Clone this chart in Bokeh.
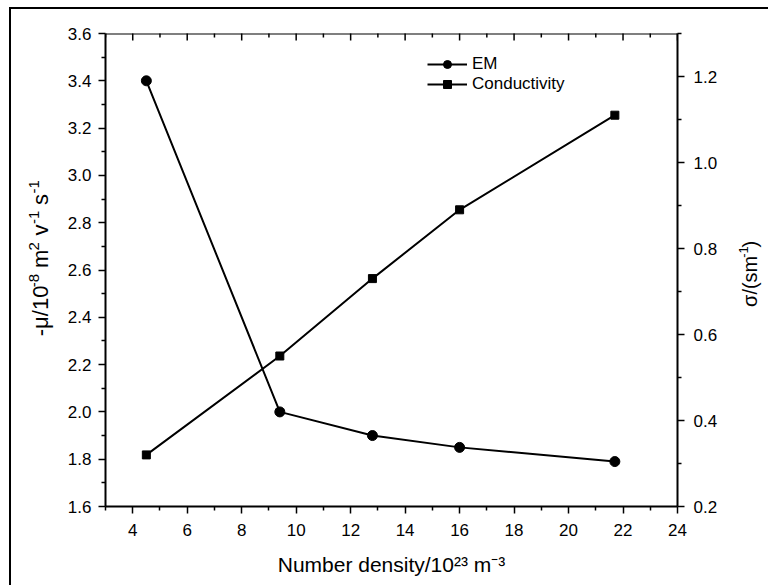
import math

from bokeh.embed import file_html
from bokeh.layouts import row
from bokeh.models import (FixedTicker, Label, Legend, LegendItem, LinearAxis,
                          PrintfTickFormatter, Range1d)
from bokeh.plotting import figure
from bokeh.resources import INLINE

# ---- data -------------------------------------------------------------
density = [4.5, 9.4, 12.8, 16.0, 21.7]          # number density / 1e23 m^-3
em_mobility = [3.40, 2.00, 1.90, 1.85, 1.79]     # -mu / 1e-8 m^2 V^-1 s^-1
conductivity = [0.32, 0.55, 0.73, 0.89, 1.11]    # sigma / (S m^-1)

x_ticks = [4, 6, 8, 10, 12, 14, 16, 18, 20, 22, 24]
mu_ticks = [1.6, 1.8, 2.0, 2.2, 2.4, 2.6, 2.8, 3.0, 3.2, 3.4, 3.6]
sigma_ticks = [0.2, 0.4, 0.6, 0.8, 1.0, 1.2]

X_RANGE = (3, 24)
MU_RANGE = (1.6, 3.6)
SIGMA_RANGE = (0.2, 1.3)

X_TITLE = "Number density/10\u00b2\u00b3 m\u207b\u00b3"
# (text, superscript?) runs for the two vertical titles
MU_TITLE = [("-\u03bc/10", False), ("-8", True), ("m", False), ("2", True),
            ("v", False), ("-1", True), ("s", False), ("-1", True)]
SIGMA_TITLE = [("\u03c3/(sm", False), ("-1", True), (")", False)]

FONT = "Liberation Sans"

# ---- canvas geometry (page pixels) ----------------------------------------
PAGE_X0, PAGE_Y0 = 11, 9        # inside the thin page frame
H = 576
LEFT_W, MAIN_W, RIGHT_W = 52, 667, 38
BL, BR, BT, BB = 42, 53, 24, 79

p = figure(width=MAIN_W, height=H,
           x_range=Range1d(*X_RANGE), y_range=Range1d(*MU_RANGE),
           x_axis_type=None, y_axis_type=None,
           output_backend="svg", toolbar_location=None,
           min_border_left=BL, min_border_right=BR,
           min_border_top=BT, min_border_bottom=BB)
p.extra_y_ranges = {"sigma": Range1d(*SIGMA_RANGE)}
p.outline_line_color = None
p.background_fill_color = "white"
p.border_fill_color = "white"


def minor_between(ticks):
    return [round((a + b) / 2, 3) for a, b in zip(ticks[:-1], ticks[1:])]


def style_axis(ax):
    ax.axis_line_color = "black"
    ax.axis_line_width = 2
    ax.major_tick_line_color = "black"
    ax.minor_tick_line_color = "black"
    ax.major_tick_line_width = 1.5
    ax.minor_tick_line_width = 1.5
    ax.major_tick_in, ax.major_tick_out = 0, 7
    ax.minor_tick_in, ax.minor_tick_out = 0, 4
    ax.major_label_text_font = FONT
    ax.major_label_text_font_size = "17px"
    ax.major_label_text_color = "black"
    ax.axis_label_text_font = FONT
    ax.axis_label_text_font_style = "normal"
    ax.axis_label_text_color = "black"


x_minor = [3] + minor_between(x_ticks)
x_ticker = FixedTicker(ticks=x_ticks, minor_ticks=x_minor)
mu_ticker = FixedTicker(ticks=mu_ticks, minor_ticks=minor_between(mu_ticks))
sigma_ticker = FixedTicker(ticks=sigma_ticks, minor_ticks=minor_between(sigma_ticks) + [1.3])

bottom = LinearAxis(ticker=x_ticker, formatter=PrintfTickFormatter(format="%d"),
                    axis_label=X_TITLE)
style_axis(bottom)
bottom.major_label_standoff = 10
bottom.axis_label_text_font_size = "21px"
bottom.axis_label_standoff = 14
p.add_layout(bottom, "below")

left = LinearAxis(ticker=mu_ticker, formatter=PrintfTickFormatter(format="%.1f"))
style_axis(left)
left.major_label_standoff = 7
p.add_layout(left, "left")

right = LinearAxis(y_range_name="sigma", ticker=sigma_ticker,
                   formatter=PrintfTickFormatter(format="%.1f"))
style_axis(right)
right.major_label_standoff = 9
p.add_layout(right, "right")

# top edge of the frame: plain line with inward ticks
p.line(x=list(X_RANGE), y=[MU_RANGE[1]] * 2, line_color="black", line_width=2)
p.scatter(x=x_ticks, y=[MU_RANGE[1]] * len(x_ticks), marker="dash", angle=math.pi / 2,
          size=14, line_color="black", line_width=1.5)
p.scatter(x=x_minor, y=[MU_RANGE[1]] * len(x_minor), marker="dash", angle=math.pi / 2,
          size=8, line_color="black", line_width=1.5)

# ---- series --------------------------------------------------------------
em_line = p.line(density, em_mobility, line_color="black", line_width=2)
em_pts = p.scatter(density, em_mobility, marker="circle", size=10,
                   fill_color="black", line_color="black")
c_line = p.line(density, conductivity, y_range_name="sigma",
                line_color="black", line_width=2)
c_pts = p.scatter(density, conductivity, y_range_name="sigma", marker="square",
                  size=8, fill_color="black", line_color="black")

legend = Legend(items=[LegendItem(label="EM", renderers=[em_line, em_pts]),
                       LegendItem(label="Conductivity", renderers=[c_line, c_pts])],
                location=(322, 473 - 21 - 40),
                glyph_width=40, glyph_height=20, label_height=20,
                label_standoff=5, padding=0, spacing=0, margin=0,
                border_line_color=None, background_fill_alpha=0,
                label_text_font=FONT, label_text_font_size="17px",
                label_text_color="black")
p.add_layout(legend)

# ---- vertical axis titles (drawn in narrow side panels) -------------------
# advance widths in 1/1000 em; the Greek letters get extra room because they
# may come from a wider fallback face
ARIAL = {" ": 278, "(": 333, ")": 333, "-": 333, ".": 278, "/": 278,
         "m": 833, "s": 500, "v": 500, "\u03bc": 850, "\u03c3": 950}
MID = 0.3465    # distance from baseline to the text box middle, in em


def text_width(s, size):
    return sum(ARIAL.get(ch, 556) for ch in s) * size / 1000.0


def title_panel(width, page_left, runs, baseline_x, start_y, main, sup, rise,
                sup_gap=0.0, word_gap=0.0):
    """Panel with a bottom-to-top title; baseline_x/start_y are page pixels."""
    f = figure(width=width, height=H, x_range=Range1d(0, width), y_range=Range1d(0, H),
               x_axis_type=None, y_axis_type=None, output_backend="svg",
               toolbar_location=None, min_border=0)
    f.outline_line_color = None
    f.border_fill_color = "white"
    f.background_fill_color = "white"
    pos = H - (start_y - PAGE_Y0)
    for i, (t, s) in enumerate(runs):
        if i > 0:
            pos += sup_gap if s else word_gap
        size = sup if s else main
        x = baseline_x - page_left - (rise if s else 0) - MID * size
        f.add_layout(Label(x=x, y=pos, text=t, angle=math.pi / 2, text_font=FONT,
                           text_font_size=f"{size}px", text_color="black",
                           text_align="left", text_baseline="middle"))
        pos += text_width(t, size)
    return f


def run_length(runs, main, sup, sup_gap, word_gap):
    total = sum(text_width(t, sup if s else main) for t, s in runs)
    gaps = sum((sup_gap if s else word_gap) for t, s in runs[1:])
    return total + gaps


MU_CENTER_Y = 284
mu_len = run_length(MU_TITLE, 22, 15, 3, 10)
left_panel = title_panel(LEFT_W, PAGE_X0, MU_TITLE, baseline_x=48,
                         start_y=MU_CENTER_Y + mu_len / 2, main=22, sup=15, rise=9,
                         sup_gap=3, word_gap=10)

right_panel = title_panel(RIGHT_W, PAGE_X0 + LEFT_W + MAIN_W, SIGMA_TITLE,
                          baseline_x=756, start_y=342, main=20, sup=13, rise=8,
                          sup_gap=2, word_gap=1)

layout = row(left_panel, p, right_panel)
layout.margin = (7, 0, 0, 9)
layout.styles = {"border-top": "2px solid black", "border-left": "2px solid black"}

open("out.html", "w").write(file_html(layout, INLINE))
